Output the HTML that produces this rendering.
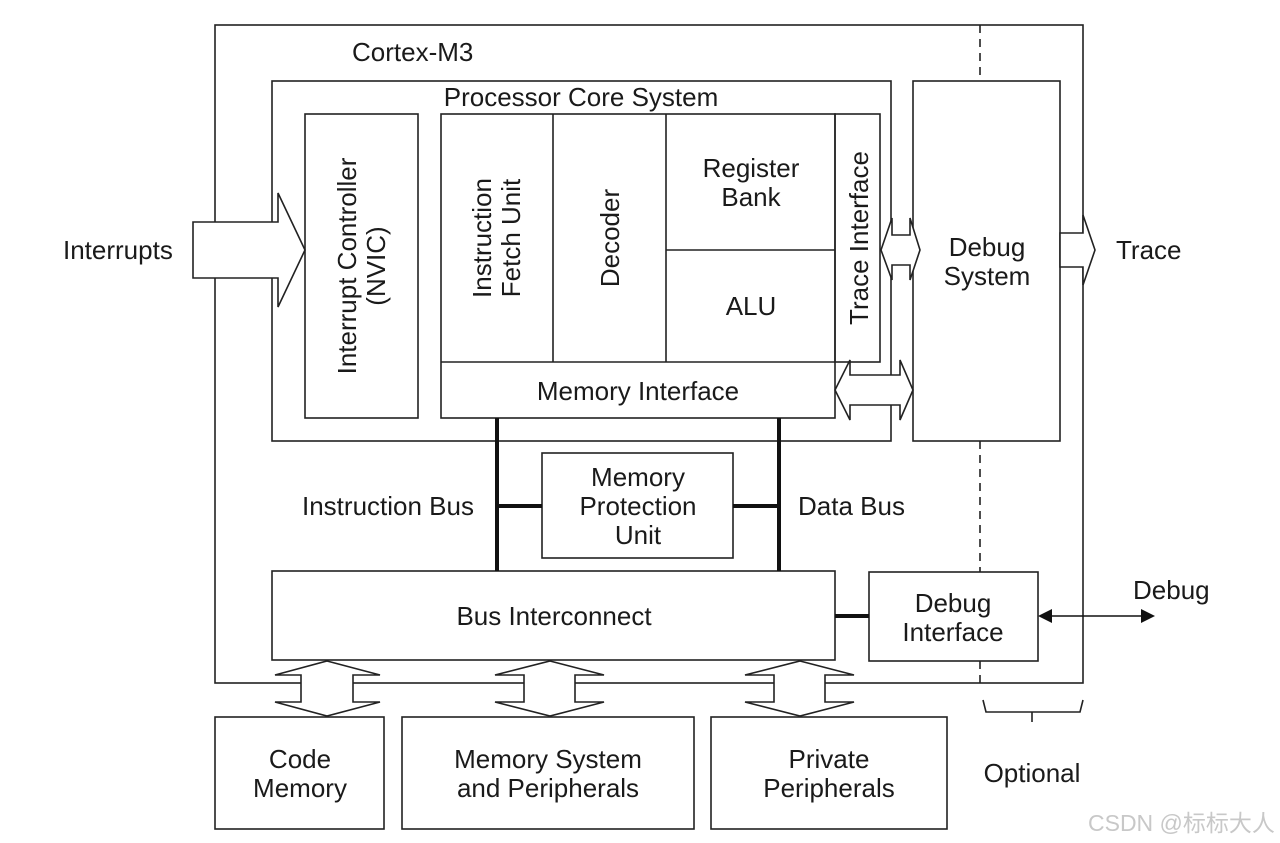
<!DOCTYPE html>
<html><head><meta charset="utf-8"><style>html,body{margin:0;padding:0;background:#fff}svg{display:block}text{font-family:"Liberation Sans",Arial,sans-serif;font-size:26px;fill:#1a1a1a}</style></head>
<body>
<svg width="1280" height="843" viewBox="0 0 1280 843" xmlns="http://www.w3.org/2000/svg">
<g fill="none" stroke="#222" stroke-width="1.6">
<rect x="215" y="25" width="868" height="658"/>
<rect x="272" y="81" width="619" height="360"/>
<rect x="305" y="114" width="113" height="304"/>
<rect x="441" y="114" width="394" height="304"/>
<line x1="553" y1="114" x2="553" y2="362"/>
<line x1="666" y1="114" x2="666" y2="362"/>
<line x1="441" y1="362" x2="835" y2="362"/>
<line x1="666" y1="250" x2="835" y2="250"/>
<rect x="835" y="114" width="45" height="248"/>
<rect x="913" y="81" width="147" height="360"/>
<rect x="542" y="453" width="191" height="105"/>
<rect x="272" y="571" width="563" height="89"/>
<rect x="869" y="572" width="169" height="89"/>
<rect x="215" y="717" width="169" height="112"/>
<rect x="402" y="717" width="292" height="112"/>
<rect x="711" y="717" width="236" height="112"/>
<g stroke-dasharray="8,6">
<line x1="980" y1="25" x2="980" y2="81"/>
<line x1="980" y1="441" x2="980" y2="572"/>
<line x1="980" y1="661" x2="980" y2="683"/>
</g>
<polyline points="983,700 986,712 1080,712 1083,700"/>
<line x1="1032" y1="712" x2="1032" y2="722"/>
</g>
<g fill="#fff" stroke="#222" stroke-width="1.6">
<polygon points="193,222 278,222 278,193 305,250 278,307 278,278 193,278"/>
<polygon points="881,250 892,218 892,235 910,235 910,218 920,250 910,280 910,265 892,265 892,280"/>
<polygon points="835,390 850,360 850,375 900,375 900,360 913,390 900,420 900,405 850,405 850,420"/>
<polygon points="1060,233 1083,233 1083,215 1095,250 1083,285 1083,267 1060,267"/>
<polygon points="327,661 380,675 353,675 353,702 380,702 327,716 275,702 301,702 301,675 275,675"/>
<polygon points="550,661 604,675 575,675 575,702 604,702 550,716 495,702 524,702 524,675 495,675"/>
<polygon points="800,661 854,675 825,675 825,702 854,702 800,716 745,702 774,702 774,675 745,675"/>
</g>
<g stroke="#111" stroke-width="4">
<line x1="497" y1="418" x2="497" y2="571"/>
<line x1="779" y1="418" x2="779" y2="571"/>
<line x1="497" y1="506" x2="542" y2="506"/>
<line x1="733" y1="506" x2="779" y2="506"/>
<line x1="835" y1="616" x2="869" y2="616"/>
</g>
<line x1="1050" y1="616" x2="1142" y2="616" stroke="#111" stroke-width="1.6"/>
<polygon points="1038,616 1052,609 1052,623" fill="#111"/>
<polygon points="1155,616 1141,609 1141,623" fill="#111"/>
<text x="352" y="61">Cortex-M3</text>
<text x="581" y="106" text-anchor="middle">Processor Core System</text>
<text x="63" y="259">Interrupts</text>
<text x="1116" y="259">Trace</text>
<text transform="translate(356,266) rotate(-90)" text-anchor="middle">Interrupt Controller</text>
<text transform="translate(385,266) rotate(-90)" text-anchor="middle">(NVIC)</text>
<text transform="translate(491,238) rotate(-90)" text-anchor="middle">Instruction</text>
<text transform="translate(520,238) rotate(-90)" text-anchor="middle">Fetch Unit</text>
<text transform="translate(619,238) rotate(-90)" text-anchor="middle">Decoder</text>
<text transform="translate(868,238) rotate(-90)" text-anchor="middle">Trace Interface</text>
<text x="751" y="177" text-anchor="middle">Register</text>
<text x="751" y="206" text-anchor="middle">Bank</text>
<text x="751" y="315" text-anchor="middle">ALU</text>
<text x="638" y="400" text-anchor="middle">Memory Interface</text>
<text x="987" y="256" text-anchor="middle">Debug</text>
<text x="987" y="285" text-anchor="middle">System</text>
<text x="638" y="486" text-anchor="middle">Memory</text>
<text x="638" y="515" text-anchor="middle">Protection</text>
<text x="638" y="544" text-anchor="middle">Unit</text>
<text x="302" y="515">Instruction Bus</text>
<text x="798" y="515">Data Bus</text>
<text x="554" y="625" text-anchor="middle">Bus Interconnect</text>
<text x="953" y="612" text-anchor="middle">Debug</text>
<text x="953" y="641" text-anchor="middle">Interface</text>
<text x="1133" y="599">Debug</text>
<text x="300" y="768" text-anchor="middle">Code</text>
<text x="300" y="797" text-anchor="middle">Memory</text>
<text x="548" y="768" text-anchor="middle">Memory System</text>
<text x="548" y="797" text-anchor="middle">and Peripherals</text>
<text x="829" y="768" text-anchor="middle">Private</text>
<text x="829" y="797" text-anchor="middle">Peripherals</text>
<text x="1032" y="782" text-anchor="middle">Optional</text>
<text x="1088" y="831" style="font-family:'Liberation Sans','Noto Sans CJK SC',sans-serif;font-size:23px;fill:#c8c8c8">CSDN @标标大人</text>
</svg>
</body></html>
